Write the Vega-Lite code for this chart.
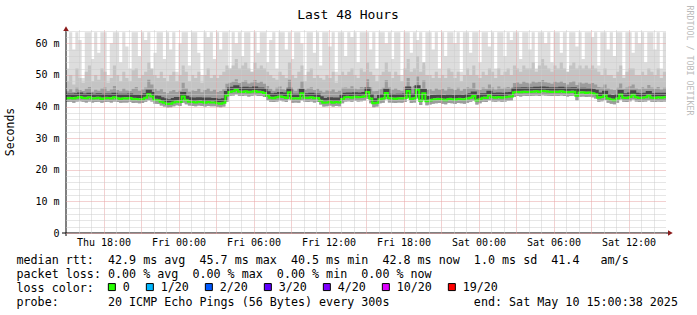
{
  "$schema": "https://vega.github.io/schema/vega-lite/v6.json",
  "width": 600,
  "height": 203,
  "autosize": {"type": "none"},
  "padding": {"left": 66, "top": 30, "right": 31, "bottom": 82},
  "background": "white",
  "config": {"view": {"stroke": null}, "font": "DejaVu Sans Mono"},
  "title": {"text": "Last 48 Hours", "font": "DejaVu Sans Mono", "fontSize": 13, "fontWeight": "normal", "color": "black", "anchor": "middle", "dx": -18, "dy": 39, "offset": 12.5, "baseline": "alphabetic"},
  "datasets": {
    "smoke": [
      {"t":0,"l":41.4,"m":42.6,"d":44.8,"q":48,"x":52},
      {"t":0.25,"l":41.5,"m":42.7,"d":45.5,"q":50,"x":63.5},
      {"t":0.5,"l":41.2,"m":42.5,"d":44.6,"q":47,"x":58},
      {"t":0.75,"l":41.6,"m":42.8,"d":45.9,"q":52,"x":63.5},
      {"t":1,"l":41.7,"m":43.0,"d":45.2,"q":49,"x":61},
      {"t":1.25,"l":41.5,"m":42.7,"d":44.9,"q":47.5,"x":49},
      {"t":1.5,"l":41.3,"m":42.6,"d":45.6,"q":51,"x":63.5},
      {"t":1.75,"l":41.6,"m":42.9,"d":46.2,"q":53,"x":63.5},
      {"t":2,"l":41.3,"m":42.5,"d":44.7,"q":48,"x":55},
      {"t":2.25,"l":41.4,"m":42.6,"d":45.3,"q":50,"x":63.5},
      {"t":2.5,"l":41.5,"m":42.8,"d":45.0,"q":48.5,"x":57},
      {"t":2.75,"l":41.2,"m":42.4,"d":45.8,"q":52,"x":63.5},
      {"t":3,"l":41.4,"m":42.6,"d":46.0,"q":51,"x":63.5},
      {"t":3.25,"l":41.5,"m":42.7,"d":44.9,"q":47.5,"x":50},
      {"t":3.5,"l":41.3,"m":42.5,"d":45.4,"q":49,"x":60},
      {"t":3.75,"l":41.6,"m":42.9,"d":46.5,"q":53,"x":63.5},
      {"t":4,"l":41.4,"m":42.6,"d":45.2,"q":50,"x":63.5},
      {"t":4.25,"l":41.2,"m":42.4,"d":44.8,"q":48,"x":54},
      {"t":4.5,"l":41.3,"m":42.6,"d":45.7,"q":51,"x":63.5},
      {"t":4.75,"l":41.3,"m":42.5,"d":45.1,"q":49,"x":59},
      {"t":5,"l":41.5,"m":42.7,"d":44.9,"q":48,"x":52},
      {"t":5.25,"l":41.1,"m":42.3,"d":45.6,"q":51.5,"x":63.5},
      {"t":5.5,"l":41.2,"m":42.4,"d":46.2,"q":52,"x":63.5},
      {"t":5.75,"l":41.0,"m":42.2,"d":45.0,"q":49,"x":56},
      {"t":6,"l":41.1,"m":42.3,"d":45.4,"q":50,"x":63.5},
      {"t":6.25,"l":41.5,"m":42.8,"d":46.0,"q":51,"x":61},
      {"t":6.5,"l":42.0,"m":43.9,"d":48.5,"q":54,"x":63.5},
      {"t":6.75,"l":41.6,"m":43.2,"d":47.0,"q":52,"x":50},
      {"t":7,"l":40.9,"m":42.1,"d":45.6,"q":50,"x":57},
      {"t":7.25,"l":40.8,"m":42.0,"d":45.0,"q":49,"x":63.5},
      {"t":7.5,"l":40.3,"m":41.5,"d":45.5,"q":51,"x":63.5},
      {"t":7.75,"l":40.0,"m":41.2,"d":44.6,"q":49,"x":55},
      {"t":8,"l":39.7,"m":40.8,"d":44.2,"q":48,"x":63.5},
      {"t":8.25,"l":39.8,"m":40.9,"d":44.8,"q":50,"x":58},
      {"t":8.5,"l":40.1,"m":41.3,"d":45.2,"q":51,"x":63.5},
      {"t":8.75,"l":40.4,"m":41.6,"d":44.6,"q":48,"x":51},
      {"t":9,"l":40.2,"m":41.4,"d":45.0,"q":50,"x":60},
      {"t":9.25,"l":41.2,"m":43.2,"d":47.5,"q":53,"x":63.5},
      {"t":9.5,"l":40.7,"m":42.0,"d":45.8,"q":51,"x":63.5},
      {"t":9.75,"l":40.3,"m":41.5,"d":44.7,"q":48,"x":53},
      {"t":10,"l":40.2,"m":41.4,"d":45.1,"q":50,"x":63.5},
      {"t":10.25,"l":40.1,"m":41.3,"d":44.9,"q":49,"x":63.5},
      {"t":10.5,"l":40.3,"m":41.5,"d":45.6,"q":51,"x":57},
      {"t":10.75,"l":40.2,"m":41.4,"d":44.5,"q":47.5,"x":50},
      {"t":11,"l":40.0,"m":41.2,"d":45.2,"q":50,"x":63.5},
      {"t":11.25,"l":40.2,"m":41.4,"d":45.8,"q":52,"x":62},
      {"t":11.5,"l":40.1,"m":41.3,"d":44.8,"q":49,"x":63.5},
      {"t":11.75,"l":40.1,"m":41.3,"d":45.3,"q":50,"x":55},
      {"t":12,"l":39.9,"m":41.0,"d":44.6,"q":49,"x":63.5},
      {"t":12.25,"l":39.8,"m":40.9,"d":44.9,"q":50,"x":58},
      {"t":12.5,"l":40.0,"m":41.2,"d":45.5,"q":51,"x":63.5},
      {"t":12.75,"l":41.5,"m":43.5,"d":47.2,"q":53,"x":63.5},
      {"t":13,"l":43.4,"m":44.6,"d":47.5,"q":52,"x":52},
      {"t":13.25,"l":43.5,"m":44.8,"d":47.9,"q":53,"x":63.5},
      {"t":13.5,"l":43.9,"m":45.3,"d":48.6,"q":55,"x":60},
      {"t":13.75,"l":43.4,"m":44.7,"d":47.4,"q":52,"x":63.5},
      {"t":14,"l":43.3,"m":44.6,"d":47.8,"q":53,"x":56},
      {"t":14.25,"l":43.5,"m":44.8,"d":48.2,"q":54,"x":63.5},
      {"t":14.5,"l":43.2,"m":44.5,"d":47.3,"q":52,"x":63.5},
      {"t":14.75,"l":43.4,"m":44.7,"d":47.6,"q":51,"x":51},
      {"t":15,"l":43.6,"m":44.9,"d":48.4,"q":54,"x":63.5},
      {"t":15.25,"l":43.3,"m":44.6,"d":47.5,"q":52,"x":57},
      {"t":15.5,"l":43.3,"m":44.6,"d":47.9,"q":53,"x":63.5},
      {"t":15.75,"l":43.0,"m":44.3,"d":47.2,"q":52,"x":63.5},
      {"t":16,"l":42.0,"m":43.4,"d":46.5,"q":51,"x":54},
      {"t":16.25,"l":41.5,"m":42.8,"d":45.6,"q":50,"x":61},
      {"t":16.5,"l":41.4,"m":42.6,"d":45.0,"q":49,"x":63.5},
      {"t":16.75,"l":41.6,"m":42.9,"d":45.9,"q":48.5,"x":52},
      {"t":17,"l":41.9,"m":43.2,"d":46.3,"q":51,"x":63.5},
      {"t":17.25,"l":41.7,"m":43.0,"d":45.5,"q":50,"x":63.5},
      {"t":17.5,"l":41.4,"m":42.7,"d":45.2,"q":49,"x":58},
      {"t":17.75,"l":42.2,"m":44.5,"d":48.5,"q":54,"x":63.5},
      {"t":18,"l":41.2,"m":42.5,"d":45.4,"q":50,"x":55},
      {"t":18.25,"l":41.3,"m":42.6,"d":45.0,"q":49,"x":63.5},
      {"t":18.5,"l":41.2,"m":42.5,"d":45.7,"q":51,"x":63.5},
      {"t":18.75,"l":42.0,"m":44.2,"d":48.0,"q":53,"x":60},
      {"t":19,"l":41.5,"m":42.8,"d":45.3,"q":48,"x":50},
      {"t":19.25,"l":41.4,"m":42.7,"d":45.8,"q":51,"x":63.5},
      {"t":19.5,"l":41.6,"m":42.9,"d":46.1,"q":52,"x":63.5},
      {"t":19.75,"l":41.3,"m":42.6,"d":45.2,"q":49,"x":57},
      {"t":20,"l":41.4,"m":42.7,"d":45.6,"q":50,"x":63.5},
      {"t":20.25,"l":40.6,"m":41.8,"d":45.0,"q":49,"x":53},
      {"t":20.5,"l":40.0,"m":41.2,"d":44.5,"q":48.5,"x":63.5},
      {"t":20.75,"l":40.1,"m":41.3,"d":45.1,"q":50,"x":63.5},
      {"t":21,"l":40.3,"m":41.5,"d":44.8,"q":49,"x":59},
      {"t":21.25,"l":40.0,"m":41.2,"d":45.4,"q":51,"x":63.5},
      {"t":21.5,"l":40.2,"m":41.4,"d":44.6,"q":47.5,"x":51},
      {"t":21.75,"l":40.1,"m":41.3,"d":45.0,"q":50,"x":63.5},
      {"t":22,"l":41.0,"m":42.4,"d":45.9,"q":51,"x":63.5},
      {"t":22.25,"l":41.6,"m":42.9,"d":46.0,"q":50,"x":56},
      {"t":22.5,"l":41.7,"m":43.0,"d":45.8,"q":51,"x":63.5},
      {"t":22.75,"l":41.5,"m":42.8,"d":46.4,"q":52,"x":62},
      {"t":23,"l":41.8,"m":43.1,"d":45.7,"q":50,"x":63.5},
      {"t":23.25,"l":41.6,"m":42.9,"d":45.5,"q":49,"x":54},
      {"t":23.5,"l":41.7,"m":43.0,"d":46.2,"q":52,"x":63.5},
      {"t":23.75,"l":41.9,"m":43.2,"d":46.0,"q":51,"x":63.5},
      {"t":24,"l":42.4,"m":44.6,"d":48.6,"q":54,"x":63.5},
      {"t":24.25,"l":41.0,"m":42.5,"d":46.0,"q":51,"x":58},
      {"t":24.5,"l":39.8,"m":41.0,"d":44.8,"q":50,"x":63.5},
      {"t":24.75,"l":40.0,"m":41.2,"d":44.9,"q":48,"x":52},
      {"t":25,"l":41.0,"m":42.3,"d":45.5,"q":50,"x":63.5},
      {"t":25.25,"l":41.2,"m":42.5,"d":45.9,"q":51,"x":63.5},
      {"t":25.5,"l":42.3,"m":44.3,"d":48.3,"q":54,"x":60},
      {"t":25.75,"l":41.3,"m":42.6,"d":46.0,"q":51,"x":63.5},
      {"t":26,"l":41.2,"m":42.5,"d":45.3,"q":49,"x":55},
      {"t":26.25,"l":41.1,"m":42.4,"d":45.8,"q":51,"x":63.5},
      {"t":26.5,"l":41.3,"m":42.6,"d":45.2,"q":50,"x":63.5},
      {"t":26.75,"l":41.2,"m":42.5,"d":45.0,"q":48,"x":50},
      {"t":27,"l":41.4,"m":42.7,"d":46.1,"q":52,"x":63.5},
      {"t":27.25,"l":42.6,"m":44.9,"d":49.0,"q":55,"x":63.5},
      {"t":27.5,"l":41.1,"m":42.4,"d":46.0,"q":51,"x":57},
      {"t":27.75,"l":41.3,"m":42.6,"d":46.5,"q":52,"x":63.5},
      {"t":28,"l":42.8,"m":45.3,"d":49.5,"q":56,"x":61},
      {"t":28.25,"l":40.5,"m":41.8,"d":45.6,"q":51,"x":63.5},
      {"t":28.5,"l":42.0,"m":44.2,"d":48.2,"q":54,"x":53},
      {"t":28.75,"l":40.4,"m":41.7,"d":45.2,"q":50,"x":63.5},
      {"t":29,"l":40.6,"m":41.9,"d":45.5,"q":50,"x":63.5},
      {"t":29.25,"l":40.9,"m":42.2,"d":45.0,"q":49,"x":58},
      {"t":29.5,"l":41.0,"m":42.3,"d":45.8,"q":51,"x":63.5},
      {"t":29.75,"l":41.1,"m":42.4,"d":45.3,"q":49,"x":52},
      {"t":30,"l":40.9,"m":42.2,"d":45.6,"q":50,"x":63.5},
      {"t":30.25,"l":40.7,"m":42.0,"d":45.1,"q":49,"x":56},
      {"t":30.5,"l":41.1,"m":42.4,"d":46.0,"q":52,"x":63.5},
      {"t":30.75,"l":41.0,"m":42.3,"d":45.7,"q":51,"x":63.5},
      {"t":31,"l":40.8,"m":42.1,"d":45.2,"q":49,"x":60},
      {"t":31.25,"l":41.1,"m":42.4,"d":45.9,"q":51,"x":63.5},
      {"t":31.5,"l":41.0,"m":42.3,"d":45.0,"q":48,"x":51},
      {"t":31.75,"l":40.9,"m":42.2,"d":45.6,"q":50,"x":63.5},
      {"t":32,"l":41.2,"m":42.5,"d":46.1,"q":52,"x":63.5},
      {"t":32.25,"l":41.5,"m":42.8,"d":45.8,"q":50,"x":57},
      {"t":32.5,"l":41.8,"m":43.3,"d":47.5,"q":53,"x":63.5},
      {"t":32.75,"l":40.6,"m":41.9,"d":45.4,"q":50,"x":63.5},
      {"t":33,"l":41.0,"m":42.3,"d":45.2,"q":49,"x":54},
      {"t":33.25,"l":41.5,"m":42.8,"d":46.0,"q":51,"x":63.5},
      {"t":33.5,"l":41.4,"m":42.7,"d":45.6,"q":50,"x":63.5},
      {"t":33.75,"l":42.0,"m":43.6,"d":47.0,"q":52,"x":59},
      {"t":34,"l":41.6,"m":42.9,"d":46.0,"q":51,"x":63.5},
      {"t":34.25,"l":41.5,"m":42.8,"d":45.4,"q":49,"x":52},
      {"t":34.5,"l":41.7,"m":43.0,"d":46.3,"q":52,"x":63.5},
      {"t":34.75,"l":41.5,"m":42.8,"d":45.7,"q":50,"x":63.5},
      {"t":35,"l":41.6,"m":42.9,"d":45.9,"q":51,"x":56},
      {"t":35.25,"l":41.8,"m":43.1,"d":46.2,"q":52,"x":63.5},
      {"t":35.5,"l":41.9,"m":43.2,"d":45.8,"q":50,"x":61},
      {"t":35.75,"l":43.0,"m":44.5,"d":47.4,"q":53,"x":63.5},
      {"t":36,"l":43.3,"m":44.6,"d":47.6,"q":52,"x":63.5},
      {"t":36.25,"l":43.2,"m":44.5,"d":47.2,"q":51,"x":55},
      {"t":36.5,"l":43.4,"m":44.7,"d":47.9,"q":53,"x":63.5},
      {"t":36.75,"l":43.3,"m":44.6,"d":47.5,"q":52,"x":63.5},
      {"t":37,"l":43.3,"m":44.6,"d":47.3,"q":52,"x":58},
      {"t":37.25,"l":43.4,"m":44.7,"d":48.0,"q":54,"x":63.5},
      {"t":37.5,"l":43.5,"m":44.8,"d":47.6,"q":51,"x":52},
      {"t":37.75,"l":43.3,"m":44.6,"d":47.8,"q":53,"x":63.5},
      {"t":38,"l":43.6,"m":44.9,"d":48.4,"q":55,"x":63.5},
      {"t":38.25,"l":43.5,"m":44.8,"d":47.7,"q":53,"x":60},
      {"t":38.5,"l":43.4,"m":44.7,"d":47.5,"q":52,"x":63.5},
      {"t":38.75,"l":43.3,"m":44.6,"d":47.2,"q":51,"x":54},
      {"t":39,"l":43.4,"m":44.7,"d":47.9,"q":53,"x":63.5},
      {"t":39.25,"l":43.3,"m":44.6,"d":47.6,"q":52,"x":63.5},
      {"t":39.5,"l":43.5,"m":44.8,"d":48.0,"q":54,"x":57},
      {"t":39.75,"l":43.3,"m":44.6,"d":47.4,"q":52,"x":63.5},
      {"t":40,"l":43.2,"m":44.5,"d":47.0,"q":51,"x":51},
      {"t":40.25,"l":43.3,"m":44.6,"d":47.7,"q":53,"x":63.5},
      {"t":40.5,"l":43.4,"m":44.7,"d":48.1,"q":54,"x":63.5},
      {"t":40.75,"l":42.0,"m":43.4,"d":46.8,"q":52,"x":59},
      {"t":41,"l":43.1,"m":44.4,"d":47.6,"q":53,"x":63.5},
      {"t":41.25,"l":43.2,"m":44.5,"d":47.3,"q":52,"x":55},
      {"t":41.5,"l":43.0,"m":44.3,"d":47.5,"q":53,"x":63.5},
      {"t":41.75,"l":43.1,"m":44.4,"d":47.2,"q":52,"x":63.5},
      {"t":42,"l":42.9,"m":44.2,"d":47.4,"q":53,"x":62},
      {"t":42.25,"l":42.5,"m":43.9,"d":47.0,"q":52,"x":63.5},
      {"t":42.5,"l":41.5,"m":42.8,"d":46.2,"q":51,"x":53},
      {"t":42.75,"l":41.7,"m":43.0,"d":46.0,"q":50,"x":63.5},
      {"t":43,"l":42.1,"m":43.6,"d":47.0,"q":52,"x":63.5},
      {"t":43.25,"l":41.2,"m":42.5,"d":45.8,"q":50,"x":58},
      {"t":43.5,"l":40.9,"m":42.2,"d":45.4,"q":50,"x":63.5},
      {"t":43.75,"l":40.7,"m":42.0,"d":45.2,"q":49,"x":56},
      {"t":44,"l":41.2,"m":42.5,"d":45.9,"q":51,"x":63.5},
      {"t":44.25,"l":42.2,"m":43.8,"d":47.3,"q":53,"x":63.5},
      {"t":44.5,"l":41.5,"m":42.8,"d":45.6,"q":49,"x":50},
      {"t":44.75,"l":41.4,"m":42.7,"d":46.0,"q":51,"x":63.5},
      {"t":45,"l":41.7,"m":43.0,"d":46.4,"q":52,"x":63.5},
      {"t":45.25,"l":42.2,"m":43.7,"d":47.0,"q":52,"x":57},
      {"t":45.5,"l":41.6,"m":42.9,"d":45.8,"q":50,"x":63.5},
      {"t":45.75,"l":41.4,"m":42.7,"d":45.5,"q":50,"x":60},
      {"t":46,"l":41.5,"m":42.8,"d":46.1,"q":51,"x":63.5},
      {"t":46.25,"l":41.6,"m":42.9,"d":45.7,"q":50,"x":54},
      {"t":46.5,"l":42.0,"m":43.5,"d":46.8,"q":52,"x":63.5},
      {"t":46.75,"l":41.5,"m":42.8,"d":46.0,"q":51,"x":63.5},
      {"t":47,"l":41.4,"m":42.7,"d":45.6,"q":50,"x":58},
      {"t":47.25,"l":41.6,"m":42.9,"d":46.2,"q":52,"x":63.5},
      {"t":47.5,"l":41.5,"m":42.8,"d":45.4,"q":49,"x":52},
      {"t":47.75,"l":41.6,"m":42.9,"d":45.9,"q":51,"x":63.5},
      {"t":48,"l":41.6,"m":42.9,"d":45.9,"q":51,"x":63.5}
    ]
  },
  "resolve": {"axis": {"x": "independent", "y": "independent"}},
  "layer": [
    {
      "data": {"name": "smoke"},
      "mark": {"type": "area", "interpolate": "step-after", "color": "#dddddd"},
      "encoding": {
        "x": {
          "field": "t", "type": "quantitative",
          "scale": {"domain": [0, 48], "nice": false, "zero": false},
          "axis": {
            "orient": "bottom",
            "values": [1,2,3,4,5,6,7,8,9,10,11,12,13,14,15,16,17,18,19,20,21,22,23,24,25,26,27,28,29,30,31,32,33,34,35,36,37,38,39,40,41,42,43,44,45,46,47],
            "grid": true,
            "gridColor": {"condition": {"test": "datum.value % 3 == 0", "value": "#e6a3a3"}, "value": "#cccccc"},
            "gridDash": [1, 1],
            "gridWidth": 1,
            "domain": false,
            "ticks": false,
            "labels": false,
            "title": null,
            "zindex": 1
          }
        },
        "y": {
          "field": "l", "type": "quantitative",
          "scale": {"domain": [0, 64.2], "nice": false, "zero": true},
          "axis": {
            "values": [0,2,4,6,8,10,12,14,16,18,20,22,24,26,28,30,32,34,36,38,40,42,44,46,48,50,52,54,56,58,60,62,64],
            "grid": true,
            "gridColor": {"condition": {"test": "datum.value % 10 == 0", "value": "#e6a3a3"}, "value": "#cccccc"},
            "gridDash": [1, 1],
            "gridWidth": 1,
            "domain": false,
            "ticks": false,
            "labelExpr": "datum.value % 10 == 0 ? (datum.value == 0 ? '0' : datum.value + ' m') : ''",
            "labelFont": "DejaVu Sans Mono",
            "labelFontSize": 10,
            "labelColor": "black",
            "labelPadding": 7,
            "labelOverlap": false,
            "labelBound": false,
            "labelFlush": false,
            "zindex": 1,
            "title": "Seconds",
            "titleFont": "DejaVu Sans Mono",
            "titleFontSize": 11.5,
            "titleFontWeight": "normal",
            "titleColor": "black",
            "titleAngle": 270,
            "titleAlign": "center",
            "titleBaseline": "middle",
            "titleX": -56,
            "titleY": 101.5
          }
        },
        "y2": {"field": "x"}
      }
    },
    {
      "data": {"name": "smoke"},
      "mark": {"type": "area", "interpolate": "step-after", "color": "#c4c4c4"},
      "encoding": {
        "x": {"field": "t", "type": "quantitative", "axis": null},
        "y": {"field": "l", "type": "quantitative", "axis": null},
        "y2": {"field": "q"}
      }
    },
    {
      "data": {"name": "smoke"},
      "mark": {"type": "area", "interpolate": "step-after", "color": "#9c9c9c"},
      "encoding": {
        "x": {"field": "t", "type": "quantitative", "axis": null},
        "y": {"field": "l", "type": "quantitative", "axis": null},
        "y2": {"field": "d"}
      }
    },
    {
      "data": {"name": "smoke"},
      "mark": {"type": "line", "interpolate": "step-after", "strokeWidth": 3, "color": "#484848", "yOffset": -3},
      "encoding": {
        "x": {"field": "t", "type": "quantitative", "axis": null},
        "y": {"field": "m", "type": "quantitative", "axis": null}
      }
    },
    {
      "data": {"name": "smoke"},
      "mark": {"type": "line", "interpolate": "step-after", "strokeWidth": 2, "color": "#26ff00"},
      "encoding": {
        "x": {
          "field": "t", "type": "quantitative",
          "axis": {
            "orient": "bottom",
            "values": [3, 9, 15, 21, 27, 33, 39, 45],
            "grid": false,
            "domain": false,
            "ticks": false,
            "labelExpr": "['Thu 18:00','Fri 00:00','Fri 06:00','Fri 12:00','Fri 18:00','Sat 00:00','Sat 06:00','Sat 12:00'][(datum.value - 3) / 6]",
            "labelFont": "DejaVu Sans Mono",
            "labelFontSize": 10,
            "labelColor": "black",
            "labelBaseline": "alphabetic",
            "labelPadding": 12,
            "labelFlush": false,
            "labelOverlap": false,
            "labelBound": false,
            "title": [
              "median rtt:\u00a0\u00a042.9 ms avg\u00a0\u00a045.7 ms max\u00a0\u00a040.5 ms min\u00a0\u00a042.8 ms now\u00a0\u00a01.0 ms sd\u00a0\u00a041.4\u00a0\u00a0\u00a0am/s",
              "packet loss: 0.00 % avg\u00a0\u00a00.00 % max\u00a0\u00a00.00 % min\u00a0\u00a00.00 % now",
              "loss color:",
              "probe:\u00a0\u00a0\u00a0\u00a0\u00a0\u00a0\u00a020 ICMP Echo Pings (56 Bytes) every 300s\u00a0\u00a0\u00a0\u00a0\u00a0\u00a0\u00a0\u00a0\u00a0\u00a0\u00a0\u00a0end: Sat May 10 15:00:38 2025"
            ],
            "titleFont": "DejaVu Sans Mono",
            "titleFontSize": 11.7,
            "titleFontWeight": "normal",
            "titleColor": "black",
            "titleAnchor": "start",
            "titleAlign": "left",
            "titleBaseline": "alphabetic",
            "titleX": -50,
            "titleY": 30,
            "titleLineHeight": 14
          }
        },
        "y": {
          "field": "m", "type": "quantitative",
          "axis": {
            "orient": "right", "labels": false, "ticks": false, "domain": false, "grid": false,
            "title": "RRDTOOL / TOBI OETIKER",
            "titleFont": "DejaVu Sans Mono", "titleFontSize": 8.3, "titleFontWeight": "normal",
            "titleColor": "#bbbbbb", "titleAngle": 90, "titleAlign": "left", "titleBaseline": "middle",
            "titleX": 22, "titleY": -25
          }
        }
      }
    },
    {
      "data": {"values": []},
      "mark": {"type": "square", "filled": true, "stroke": "black", "strokeWidth": 1, "opacity": 1},
      "encoding": {
        "color": {
          "datum": "0", "type": "nominal",
          "scale": {
            "domain": ["0", "1/20", "2/20", "3/20", "4/20", "10/20", "19/20"],
            "range": ["#26ff00", "#00b8ff", "#0059ff", "#5e00ff", "#7e00ff", "#dd00ff", "#ff0000"]
          },
          "legend": {
            "orient": "none", "legendX": 40, "legendY": 251, "direction": "horizontal",
            "title": null,
            "labelFont": "DejaVu Sans Mono", "labelFontSize": 11.7, "labelColor": "black",
            "labelOffset": 5, "columnPadding": 14, "padding": 0,
            "symbolSize": 49, "symbolType": "square",
            "symbolStrokeColor": "black", "symbolStrokeWidth": 1, "symbolOpacity": 1
          }
        }
      }
    },
    {
      "data": {"values": [{}]},
      "mark": {"type": "rule", "color": "black", "strokeWidth": 1},
      "encoding": {
        "x": {"datum": -0.32, "type": "quantitative", "axis": null},
        "x2": {"datum": 48.3},
        "y": {"datum": 0, "type": "quantitative", "axis": null}
      }
    },
    {
      "data": {"values": [{}]},
      "mark": {"type": "rule", "color": "black", "strokeWidth": 1},
      "encoding": {
        "x": {"datum": 0, "type": "quantitative", "axis": null},
        "y": {"datum": -0.95, "type": "quantitative", "axis": null},
        "y2": {"datum": 64.6}
      }
    },
    {
      "data": {"values": [{}]},
      "mark": {"type": "point", "shape": "triangle-up", "filled": true, "color": "#8b1a1a", "size": 30, "opacity": 1},
      "encoding": {
        "x": {"datum": 0, "type": "quantitative", "axis": null},
        "y": {"datum": 64.6, "type": "quantitative", "axis": null}
      }
    },
    {
      "data": {"values": [{}]},
      "mark": {"type": "point", "shape": "triangle-right", "filled": true, "color": "#8b1a1a", "size": 30, "opacity": 1},
      "encoding": {
        "x": {"datum": 48.35, "type": "quantitative", "axis": null},
        "y": {"datum": 0, "type": "quantitative", "axis": null}
      }
    }
  ]
}
